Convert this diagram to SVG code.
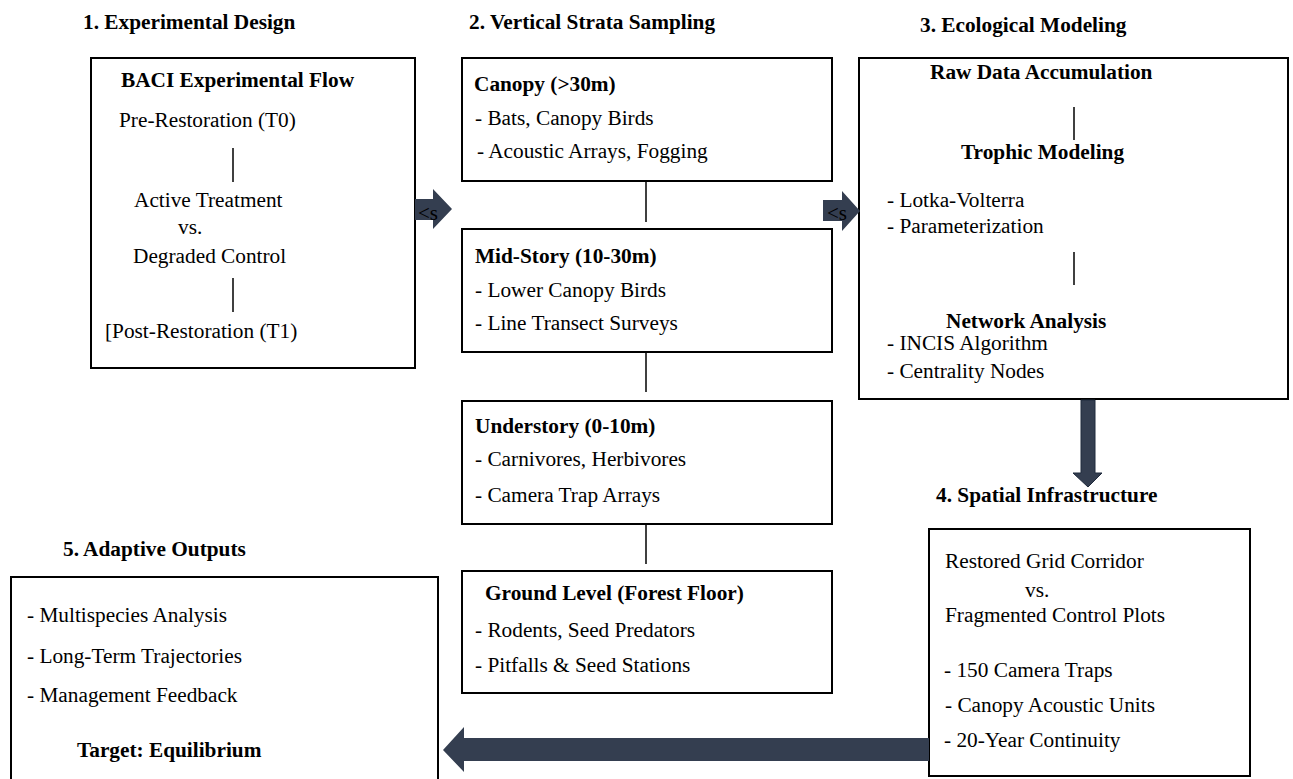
<svg xmlns="http://www.w3.org/2000/svg" width="1293" height="779" viewBox="0 0 1293 779">
<style>
text{font-family:"Liberation Serif","Times New Roman",serif;font-size:21.3px;fill:#000}
.b{font-weight:bold}
.box{fill:#fff;stroke:#000;stroke-width:2}
.ln{stroke:#000;stroke-width:1.5;fill:none}
.arw{fill:#343E50}
.lbl{font-size:21px;fill:#000}
</style>
<rect width="1293" height="779" fill="#fff"/>
<g id="titles">
<text class="b" x="83" y="29">1. Experimental Design</text>
<text class="b" x="469" y="29">2. Vertical Strata Sampling</text>
<text class="b" x="920" y="32">3. Ecological Modeling</text>
<text class="b" x="936" y="502">4. Spatial Infrastructure</text>
<text class="b" x="63" y="556">5. Adaptive Outputs</text>
</g>
<g id="node-baci">
<rect class="box" x="91" y="58" width="324" height="310"/>
<text class="b" x="121" y="87">BACI Experimental Flow</text>
<text x="119" y="127">Pre-Restoration (T0)</text>
<line class="ln" x1="233" y1="148" x2="233" y2="182"/>
<text x="134" y="207">Active Treatment</text>
<text x="178" y="234">vs.</text>
<text x="133" y="263">Degraded Control</text>
<line class="ln" x1="233" y1="278" x2="233" y2="312"/>
<text x="105" y="338">[Post-Restoration (T1)</text>
</g>
<g id="node-canopy">
<rect class="box" x="462" y="58" width="370" height="123"/>
<text class="b" x="474" y="91">Canopy (&gt;30m)</text>
<text x="475" y="125">- Bats, Canopy Birds</text>
<text x="477" y="158">- Acoustic Arrays, Fogging</text>
</g>
<g id="node-midstory">
<rect class="box" x="462" y="229" width="370" height="123"/>
<text class="b" x="475" y="263">Mid-Story (10-30m)</text>
<text x="475" y="297">- Lower Canopy Birds</text>
<text x="475" y="330">- Line Transect Surveys</text>
</g>
<g id="node-understory">
<rect class="box" x="462" y="401" width="370" height="123"/>
<text class="b" x="475" y="433">Understory (0-10m)</text>
<text x="475" y="466">- Carnivores, Herbivores</text>
<text x="475" y="502">- Camera Trap Arrays</text>
</g>
<g id="node-ground">
<rect class="box" x="462" y="571" width="370" height="122"/>
<text class="b" x="485" y="600">Ground Level (Forest Floor)</text>
<text x="475" y="637">- Rodents, Seed Predators</text>
<text x="475" y="672">- Pitfalls &amp; Seed Stations</text>
</g>
<g id="node-modeling">
<rect class="box" x="859" y="58" width="429" height="341"/>
<text class="b" x="930" y="79">Raw Data Accumulation</text>
<line class="ln" x1="1074" y1="107" x2="1074" y2="140"/>
<text class="b" x="961" y="159">Trophic Modeling</text>
<text x="887" y="207">- Lotka-Volterra</text>
<text x="887" y="233">- Parameterization</text>
<line class="ln" x1="1074" y1="252" x2="1074" y2="285"/>
<text class="b" x="946" y="328">Network Analysis</text>
<text x="887" y="350">- INCIS Algorithm</text>
<text x="887" y="378">- Centrality Nodes</text>
</g>
<g id="node-spatial">
<rect class="box" x="929" y="529" width="321" height="247"/>
<text x="945" y="568">Restored Grid Corridor</text>
<text x="1025" y="597">vs.</text>
<text x="945" y="622">Fragmented Control Plots</text>
<text x="944" y="677">- 150 Camera Traps</text>
<text x="945" y="712">- Canopy Acoustic Units</text>
<text x="944" y="747">- 20-Year Continuity</text>
</g>
<g id="node-outputs">
<rect class="box" x="11" y="577" width="427" height="220"/>
<text x="27" y="622">- Multispecies Analysis</text>
<text x="27" y="663">- Long-Term Trajectories</text>
<text x="27" y="702">- Management Feedback</text>
<text class="b" x="77" y="757">Target: Equilibrium</text>
</g>
<g id="connectors">
<line class="ln" x1="646" y1="181" x2="646" y2="222"/>
<line class="ln" x1="646" y1="352" x2="646" y2="392"/>
<line class="ln" x1="646" y1="524" x2="646" y2="564"/>
<polygon class="arw" points="415,199 433,199 433,189 452,209 433,229 433,220 415,220"/>
<text class="lbl" x="418" y="220">&lt;s</text>
<polygon class="arw" points="823,200 842,200 842,191 860,211 842,231 842,221 823,221"/>
<text class="lbl" x="827" y="220">&lt;s</text>
<polygon class="arw" points="1081,400 1095,400 1095,473 1102,473 1088,487 1073,473 1081,473" stroke="#1F2A3C" stroke-width="1"/>
<polygon class="arw" points="929,738 464,738 464,727 443,750 464,772 464,761 929,761"/>
</g>
</svg>
